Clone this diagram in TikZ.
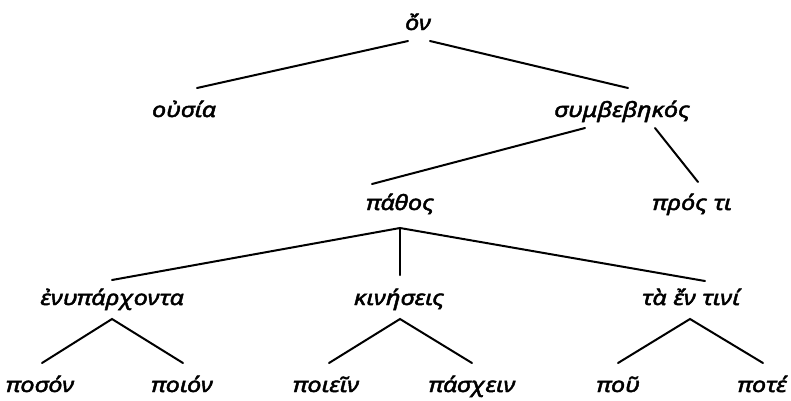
\documentclass[tikz,border=0pt]{standalone}
\usepackage{fontspec}
\newfontfamily\greekfont[FakeBold=2.2,FakeStretch=1.2]{Noto Sans Italic}
\begin{document}
\begin{tikzpicture}[x=1pt,y=-1pt,
  term/.style={anchor=base,inner sep=0pt,font=\fontsize{21}{24}\greekfont},
  branch/.style={line width=2pt,line cap=round}]
\useasboundingbox (0,0) rectangle (791,400);

% labels of the tree
\node[term] (on)    at (418,30)  {ὄν};
\node[term] (ousia) at (184,117) {οὐσία};
\node[term] (symb)  at (622,117) {συμβεβηκός};
\node[term] (pathos) at (400,210) {πάθος};
\node[term] (pros)  at (692,210) {πρός τι};
\node[term] (enyp)  at (112,305) {ἐνυπάρχοντα};
\node[term] (kin)   at (399,305) {κινήσεις};
\node[term] (taen)  at (691,305) {τὰ ἔν τινί};
\node[term] (poson) at (40,392)  {ποσόν};
\node[term] (poion) at (182,392) {ποιόν};
\node[term] (poiein) at (326,392) {ποιεῖν};
\node[term] (pasch) at (472,392) {πάσχειν};
\node[term] (pou)   at (618,392) {ποῦ};
\node[term] (pote)  at (762,392) {ποτέ};

% branch end points
\coordinate (on-l) at (408,41);   \coordinate (ousia-t) at (197,88);
\coordinate (on-r) at (430,41);   \coordinate (symb-t) at (628,88);
\coordinate (symb-l) at (585,128); \coordinate (pathos-t) at (372,184);
\coordinate (symb-r) at (655,128); \coordinate (pros-t) at (698,182);
\coordinate (pathos-b) at (400,228);
\coordinate (enyp-t) at (112,280); \coordinate (kin-t) at (400,275); \coordinate (taen-t) at (705,281);
\coordinate (enyp-b) at (112,319); \coordinate (poson-t) at (42,363); \coordinate (poion-t) at (183,363);
\coordinate (kin-b) at (400,319);  \coordinate (poiein-t) at (329,363); \coordinate (pasch-t) at (472,363);
\coordinate (taen-b) at (690,319); \coordinate (pou-t) at (618,363); \coordinate (pote-t) at (763,363);

\draw[branch] (ousia-t) -- (on-l);
\draw[branch] (on-r) -- (symb-t);
\draw[branch] (pathos-t) -- (symb-l);
\draw[branch] (symb-r) -- (pros-t);
\draw[branch] (enyp-t) -- (pathos-b) -- (taen-t);
\draw[branch] (pathos-b) -- (kin-t);
\draw[branch] (poson-t) -- (enyp-b) -- (poion-t);
\draw[branch] (poiein-t) -- (kin-b) -- (pasch-t);
\draw[branch] (pou-t) -- (taen-b) -- (pote-t);
\end{tikzpicture}
\end{document}
